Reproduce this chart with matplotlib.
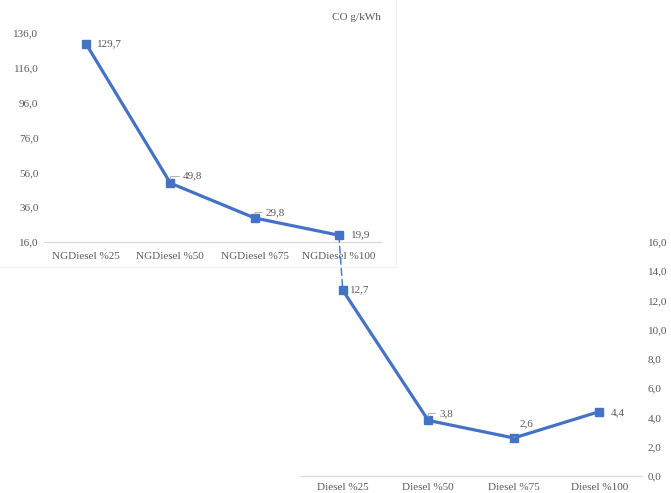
import matplotlib
matplotlib.use("Agg")
import matplotlib.pyplot as plt
from matplotlib.patches import ConnectionPatch
from matplotlib.lines import Line2D

# CO emissions (g/kWh) by engine load
ng_categories = ["NGDiesel %25", "NGDiesel %50", "NGDiesel %75", "NGDiesel %100"]
ng_values = [129.7, 49.8, 29.8, 19.9]
ng_ticks = [16, 36, 56, 76, 96, 116, 136]

d_categories = ["Diesel %25", "Diesel %50", "Diesel %75", "Diesel %100"]
d_values = [12.7, 3.8, 2.6, 4.4]
d_ticks = [0, 2, 4, 6, 8, 10, 12, 14, 16]

title = "CO g/kWh"

BLUE = "#4472C4"
TEXT = "#595959"
AXIS = "#D9D9D9"
FONT = "Liberation Serif"
FS = 8

W, H = 671, 493
fig = plt.figure(figsize=(W / 100, H / 100), dpi=100)


def px_axes(left, top, right, bottom):
    return fig.add_axes([left / W, 1 - bottom / H, (right - left) / W, (bottom - top) / H])


def comma(v):
    return f"{v:.1f}".replace(".", ",")


def style(ax):
    for s in ax.spines.values():
        s.set_visible(False)
    ax.spines["bottom"].set_visible(True)
    ax.spines["bottom"].set_color(AXIS)
    ax.spines["bottom"].set_linewidth(0.9)
    ax.set_facecolor("none")
    ax.tick_params(length=0, colors=TEXT, labelsize=FS)
    for lab in ax.get_xticklabels() + ax.get_yticklabels():
        lab.set_fontfamily(FONT)
        lab.set_color(TEXT)


# faint frame of the upper chart area
fig.add_artist(Line2D([396 / W, 396 / W], [1, 1 - 267 / H], color="#F3F3F3", lw=0.8))
fig.add_artist(Line2D([0, 396 / W], [1 - 267 / H, 1 - 267 / H], color="#F3F3F3", lw=0.8))

# upper chart: NGDiesel
ax1 = px_axes(44, 33, 381, 242)
x1 = list(range(len(ng_categories)))
ax1.plot(x1, ng_values, color=BLUE, lw=2.3, marker="s", ms=5.5, clip_on=False, zorder=3)
ax1.set_xlim(-0.5, 3.5)
ax1.set_ylim(16, 136)
ax1.set_yticks(ng_ticks)
ax1.set_yticklabels([comma(t) for t in ng_ticks])
ax1.set_xticks(x1)
ax1.set_xticklabels(ng_categories)
ax1.tick_params(axis="y", pad=4)
ax1.tick_params(axis="x", pad=7)
style(ax1)

# lower chart: Diesel, values on the right
ax2 = px_axes(300, 242, 642, 476)
x2 = list(range(len(d_categories)))
ax2.plot(x2, d_values, color=BLUE, lw=2.3, marker="s", ms=5.5, clip_on=False, zorder=3)
ax2.set_xlim(-0.5, 3.5)
ax2.set_ylim(0, 16)
ax2.yaxis.tick_right()
ax2.set_yticks(d_ticks)
ax2.set_yticklabels([comma(t) for t in d_ticks])
ax2.set_xticks(x2)
ax2.set_xticklabels(d_categories)
ax2.tick_params(axis="y", pad=4)
ax2.tick_params(axis="x", pad=5)
style(ax2)

# dashed link between the last NGDiesel point and the first Diesel point
link = ConnectionPatch(xyA=(x1[-1], ng_values[-1]), coordsA=ax1.transData,
                       xyB=(x2[0], d_values[0]), coordsB=ax2.transData,
                       color=BLUE, lw=1.0, linestyle=(0, (5, 3)), zorder=2)
fig.add_artist(link)

lab_kw = dict(textcoords="offset points", fontsize=FS, color=TEXT, family=FONT, va="center")
lead = dict(arrowstyle="-", color="#A6A6A6", lw=0.6, shrinkA=1, shrinkB=3,
            connectionstyle="angle,angleA=0,angleB=90,rad=0")

# value labels, upper chart
ax1.annotate(comma(ng_values[0]), (x1[0], ng_values[0]), xytext=(8, 0), ha="left", **lab_kw)
ax1.annotate(comma(ng_values[1]), (x1[1], ng_values[1]), xytext=(9, 5), ha="left",
             arrowprops=lead, **lab_kw)
ax1.annotate(comma(ng_values[2]), (x1[2], ng_values[2]), xytext=(8, 4), ha="left",
             arrowprops=lead, **lab_kw)
ax1.annotate(comma(ng_values[3]), (x1[3], ng_values[3]), xytext=(9, 0), ha="left", **lab_kw)

# value labels, lower chart
ax2.annotate(comma(d_values[0]), (x2[0], d_values[0]), xytext=(5, 0), ha="left", **lab_kw)
ax2.annotate(comma(d_values[1]), (x2[1], d_values[1]), xytext=(8, 5), ha="left",
             arrowprops=lead, **lab_kw)
ax2.annotate(comma(d_values[2]), (x2[2], d_values[2]), xytext=(9, 10), ha="center",
             arrowprops=dict(arrowstyle="-", color="#A6A6A6", lw=0.6, shrinkA=5, shrinkB=3),
             **lab_kw)
ax2.annotate(comma(d_values[3]), (x2[3], d_values[3]), xytext=(8, -1), ha="left", **lab_kw)

fig.text(356 / W, 1 - 17 / H, title, ha="center", va="center",
         fontsize=FS, color=TEXT, family=FONT)

fig.savefig("out.png", dpi=100, facecolor="white")
